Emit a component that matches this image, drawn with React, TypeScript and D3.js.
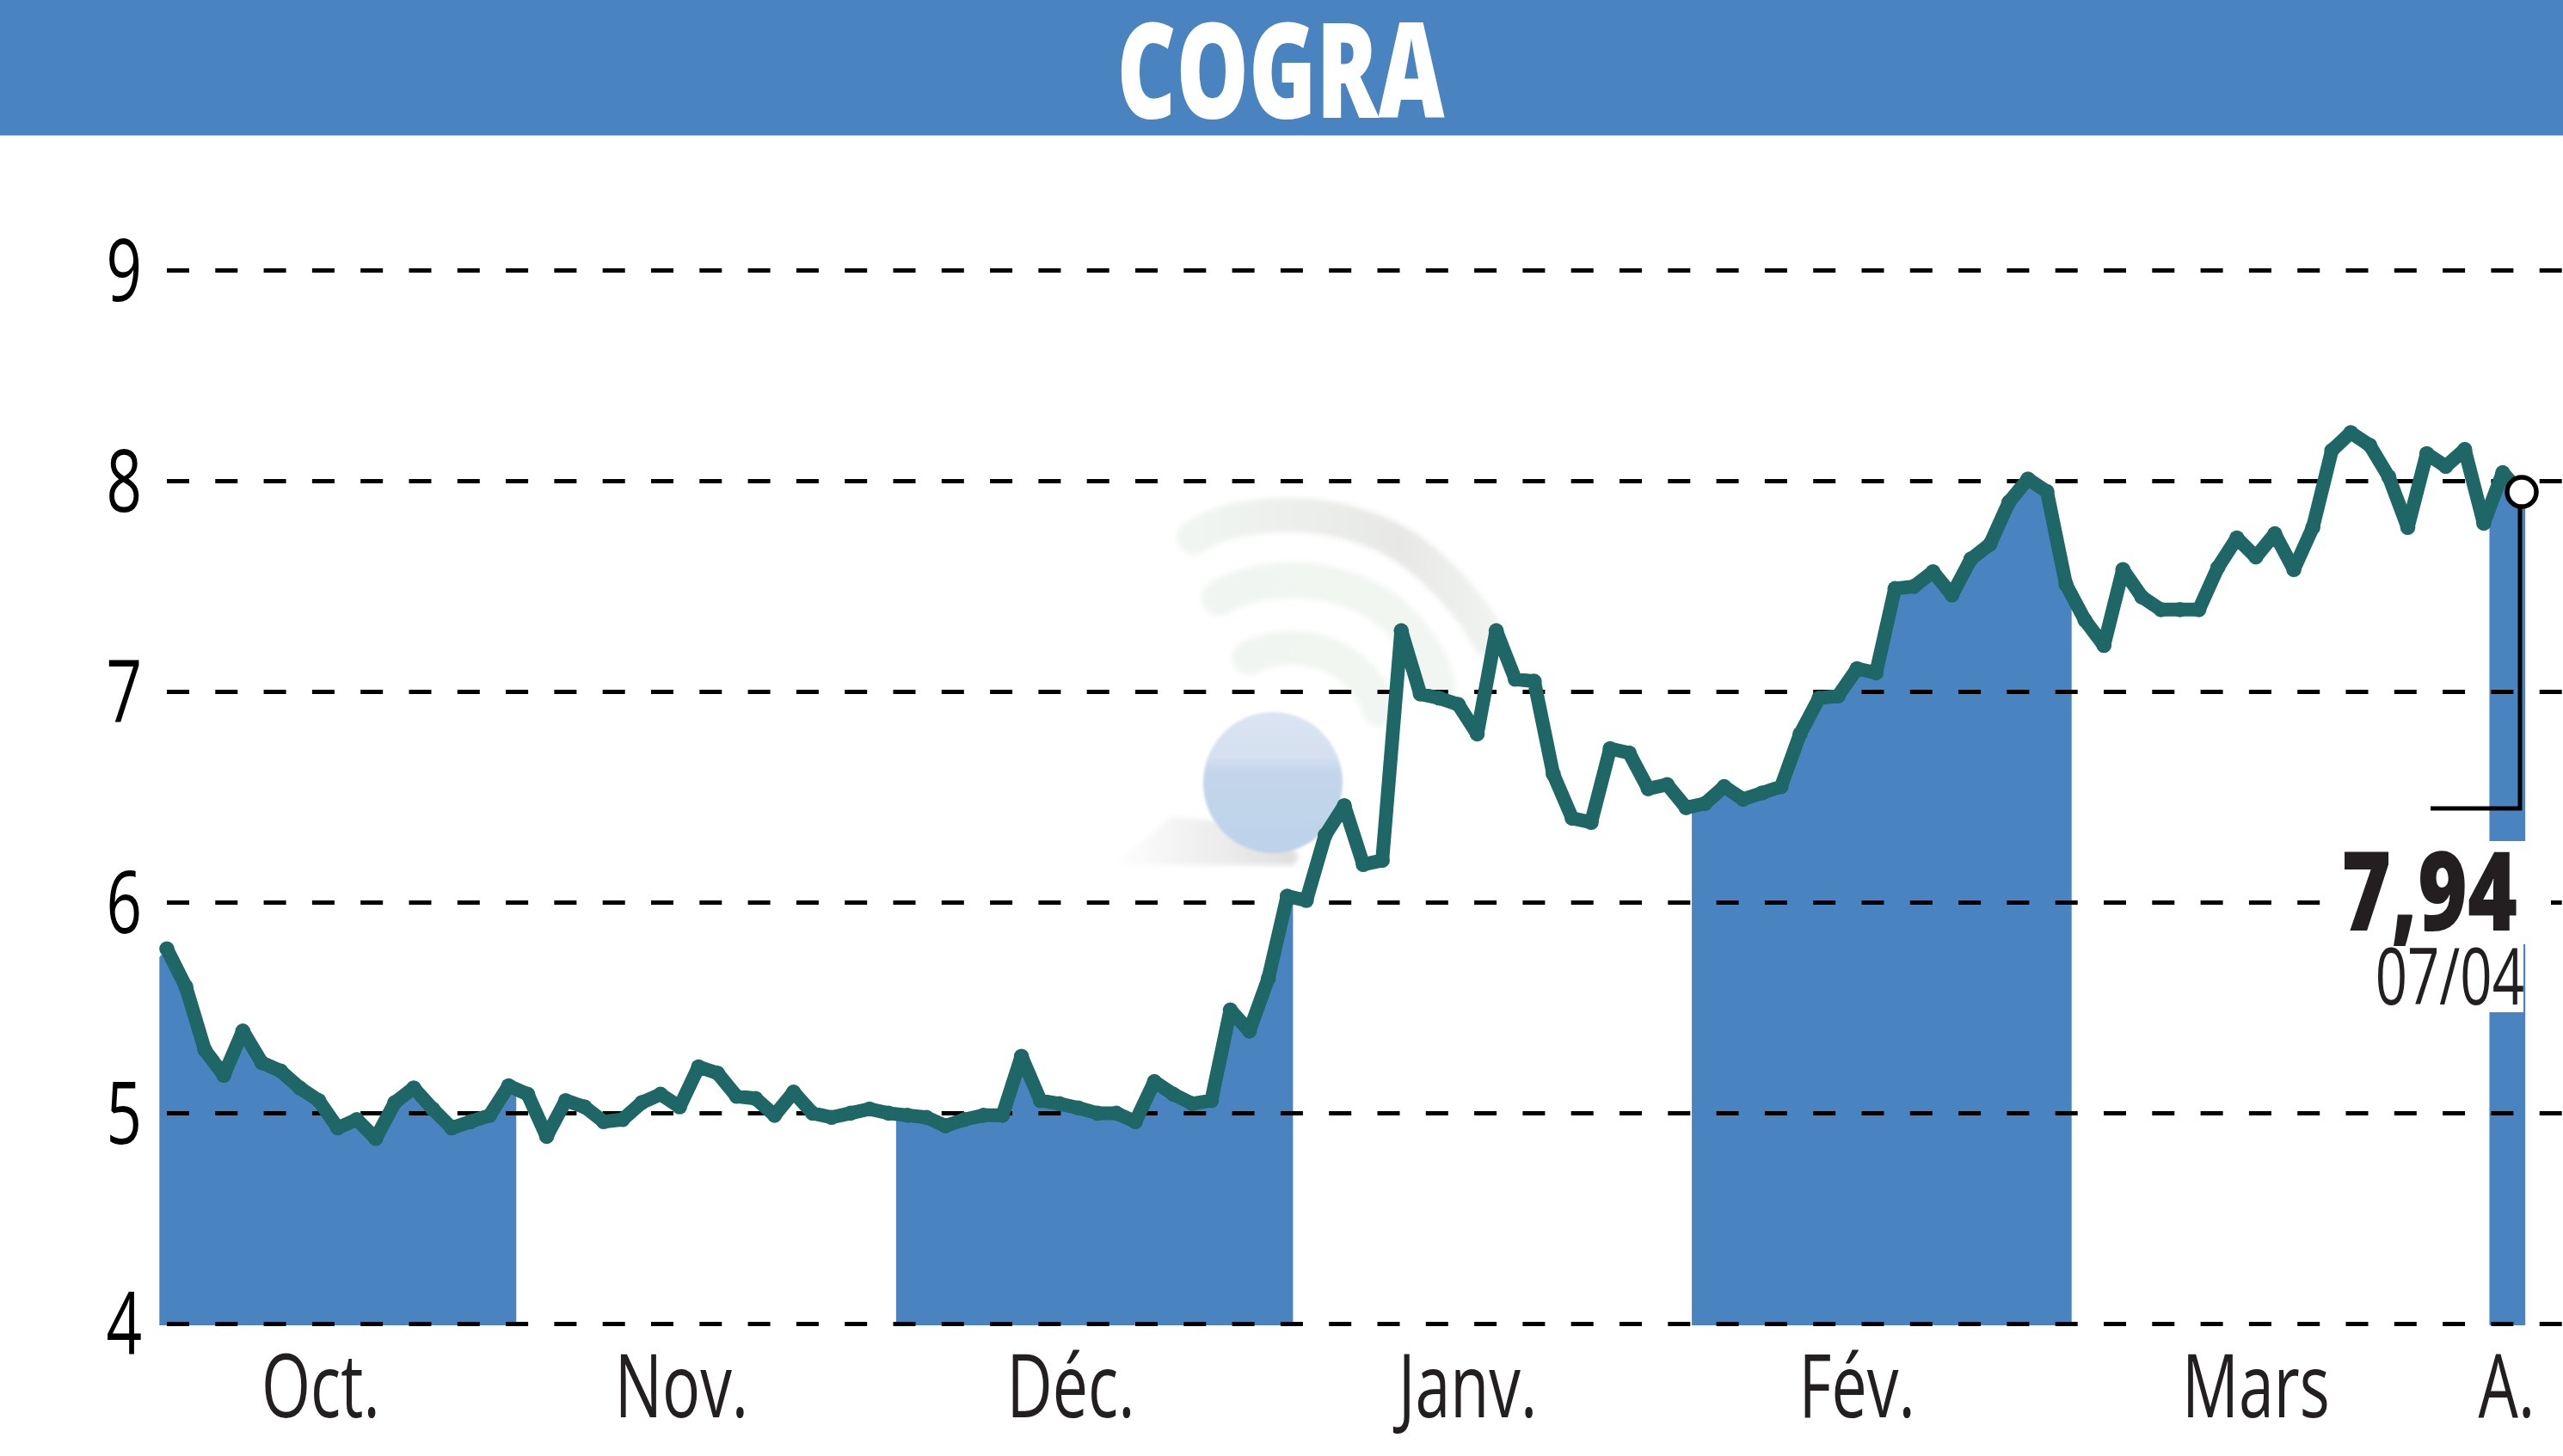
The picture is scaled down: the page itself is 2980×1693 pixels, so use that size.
import * as d3 from 'd3';

const TITLE = 'COGRA';
const LAST_VALUE_LABEL = '7,94';
const LAST_DATE_LABEL = '07/04';

// closing prices, one per trading day
const prices = [
  5.78, 5.6, 5.3, 5.18, 5.39, 5.24, 5.2, 5.12, 5.06, 4.93,
  4.97, 4.88, 5.05, 5.12, 5.02, 4.93, 4.96, 4.99, 5.13, 5.09,
  4.89, 5.06, 5.03, 4.96, 4.97, 5.05, 5.09, 5.03, 5.22, 5.19,
  5.08, 5.07, 4.99, 5.1, 5.0, 4.98, 5.0, 5.02, 5.0, 4.99,
  4.98, 4.94, 4.97, 4.99, 4.99, 5.27, 5.06, 5.045, 5.025, 5.0,
  5.0, 4.96, 5.15, 5.09, 5.045, 5.06, 5.49, 5.39, 5.64, 6.03,
  6.01, 6.32, 6.46, 6.18, 6.2, 7.29, 6.99, 6.97, 6.94, 6.8,
  7.29, 7.06, 7.05, 6.61, 6.4, 6.38, 6.73, 6.71, 6.54, 6.56,
  6.45, 6.47, 6.55, 6.49, 6.52, 6.55, 6.8, 6.97, 6.98, 7.11,
  7.09, 7.49, 7.5, 7.57, 7.46, 7.63, 7.7, 7.9, 8.01, 7.95,
  7.51, 7.34, 7.22, 7.58, 7.45, 7.39, 7.39, 7.39, 7.59, 7.73,
  7.64, 7.75, 7.58, 7.78, 8.145, 8.23, 8.17, 8.02, 7.78, 8.13,
  8.07, 8.15, 7.8, 8.04, 7.94,
];

const yTicks = [4, 5, 6, 7, 8, 9];

const monthLabels = ['Oct.', 'Nov.', 'Déc.', 'Janv.', 'Fév.', 'Mars', 'A.'];
const monthCenters = [8.1, 27.1, 47.6, 68.5, 89, 110, 123.2];

// shaded months, in trading-day index
const bandStarts = [-0.4, 38.4, 80.3, 122.3];
const bandEnds = [18.4, 59.3, 100.3, 124.2];
const firstBandTop = 5.74;

const W = 2980;
const H = 1693;
const BLUE = '#4a84c0';
const GREEN = '#1f6666';
const INK = '#231f20';
const FONT = '"Open Sans", sans-serif';

const x = d3.scaleLinear().domain([0, prices.length - 1]).range([194, 2932]);
const y = d3.scaleLinear().domain([4, 9]).range([1539.4, 314.4]);

type Pt = { i: number; v: number };
const points: Pt[] = prices.map((v, i) => ({ i, v }));
const areaPoints: Pt[] = [
  { i: bandStarts[0], v: firstBandTop },
  ...points,
  { i: bandEnds[bandEnds.length - 1], v: prices[prices.length - 1] },
];

const linePath = d3.line<Pt>().x(d => x(d.i)).y(d => y(d.v))(points) as string;
const areaPath = d3.area<Pt>().x(d => x(d.i)).y0(1541).y1(d => y(d.v))(areaPoints) as string;

const last = points[points.length - 1];

// pale logo behind the chart
function Watermark() {
  return (
    <g>
      <defs>
        <linearGradient id="ball" x1="0" y1="0" x2="0" y2="1">
          <stop offset="0%" stopColor="#dbe4f2" />
          <stop offset="32%" stopColor="#d5e0f0" />
          <stop offset="44%" stopColor="#c2d5ea" />
          <stop offset="100%" stopColor="#bdd2e9" />
        </linearGradient>
        <linearGradient id="arc" x1="0" y1="0" x2="1" y2="0">
          <stop offset="0%" stopColor="#f1f5f1" />
          <stop offset="70%" stopColor="#e7e8e6" />
          <stop offset="100%" stopColor="#f0f3ef" />
        </linearGradient>
        <linearGradient id="arc2" x1="0" y1="0" x2="1" y2="0">
          <stop offset="0%" stopColor="#f1f5f1" />
          <stop offset="100%" stopColor="#f2f6f2" />
        </linearGradient>
        <linearGradient id="smear" x1="0" y1="0" x2="1" y2="0">
          <stop offset="0%" stopColor="#ffffff" />
          <stop offset="100%" stopColor="#dedede" />
        </linearGradient>
        <filter id="soft" x="-10%" y="-10%" width="120%" height="120%">
          <feGaussianBlur stdDeviation="3" />
        </filter>
        <filter id="softer" x="-10%" y="-10%" width="120%" height="120%">
          <feGaussianBlur stdDeviation="1.5" />
        </filter>
      </defs>
      <g fill="none" strokeLinecap="round" filter="url(#soft)">
        <path d="M1388 625 C1440 590 1560 585 1640 640 C1680 670 1715 710 1732 745" stroke="url(#arc)" strokeWidth="40" />
        <path d="M1418 695 C1470 665 1560 665 1620 715 C1650 745 1668 770 1672 800" stroke="url(#arc2)" strokeWidth="42" />
        <path d="M1452 765 C1490 745 1545 750 1580 785 C1595 800 1602 815 1603 825" stroke="url(#arc2)" strokeWidth="40" />
      </g>
      <path d="M1293 1000 C1330 985 1345 960 1362 950 L1480 960 L1510 995 L1505 1006 L1300 1006 Z" fill="url(#smear)" filter="url(#soft)" />
      <ellipse cx="1480" cy="910" rx="81" ry="82" fill="url(#ball)" filter="url(#softer)" />
    </g>
  );
}

export default function App() {
  return (
    <svg
      width={W}
      height={H}
      viewBox={`0 0 ${W} ${H}`}
      style={{ position: 'absolute', left: 0, top: 0, display: 'block', background: '#fff' }}
    >
      <defs>
        <clipPath id="bands">
          {bandStarts.map((s, k) => (
            <rect key={k} x={x(s)} y={0} width={x(bandEnds[k]) - x(s)} height={H} />
          ))}
        </clipPath>
      </defs>

      <rect x={0} y={0} width={W} height={157.5} fill={BLUE} />
      <text
        transform={`translate(${W / 2 - 1},137) scale(0.685,1)`}
        textAnchor="middle"
        fontFamily={FONT}
        fontWeight={800}
        fontSize={155}
        fill="#fff"
      >
        {TITLE}
      </text>

      <Watermark />

      <path d={areaPath} fill={BLUE} clipPath="url(#bands)" />

      {/* dashed grid */}
      {yTicks.map(t => (
        <line
          key={t}
          x1={194}
          x2={W}
          y1={y(t)}
          y2={y(t)}
          stroke="#000"
          strokeWidth={5}
          strokeDasharray="26 30.3"
        />
      ))}

      {yTicks.map(t => (
        <text
          key={t}
          transform={`translate(165,${y(t) + 36}) scale(0.72,1)`}
          textAnchor="end"
          fontFamily={FONT}
          fontSize={101}
          fill="#000"
        >
          {t}
        </text>
      ))}

      {monthLabels.map((m, k) => (
        <text
          key={m}
          transform={`translate(${x(monthCenters[k])},1648) scale(0.72,1)`}
          textAnchor="middle"
          fontFamily={FONT}
          fontSize={102}
          fill={INK}
        >
          {m}
        </text>
      ))}

      <path d={linePath} fill="none" stroke={GREEN} strokeWidth={16} strokeLinejoin="round" />
      {points.map(d => (
        <circle key={d.i} cx={x(d.i)} cy={y(d.v)} r={8.8} fill={GREEN} />
      ))}

      {/* room for the last-value label */}
      <rect x={2705} y={978} width={261} height={120} fill="#fff" />
      <rect x={2705} y={1098} width={229} height={79} fill="#fff" />

      <path
        d={`M2826 940 H${x(last.i) - 2} V${y(last.v)}`}
        fill="none"
        stroke="#000"
        strokeWidth={5}
      />
      <circle cx={x(last.i)} cy={y(last.v) - 2} r={17} fill="#fff" stroke="#000" strokeWidth={5.5} />

      <text
        transform="translate(2927,1082) scale(0.78,1)"
        textAnchor="end"
        fontFamily={FONT}
        fontWeight={800}
        fontSize={127}
        fill={INK}
      >
        {LAST_VALUE_LABEL}
      </text>
      <text
        transform="translate(2935,1168) scale(0.71,1)"
        textAnchor="end"
        fontFamily={FONT}
        fontSize={92}
        fill={INK}
      >
        {LAST_DATE_LABEL}
      </text>
    </svg>
  );
}
